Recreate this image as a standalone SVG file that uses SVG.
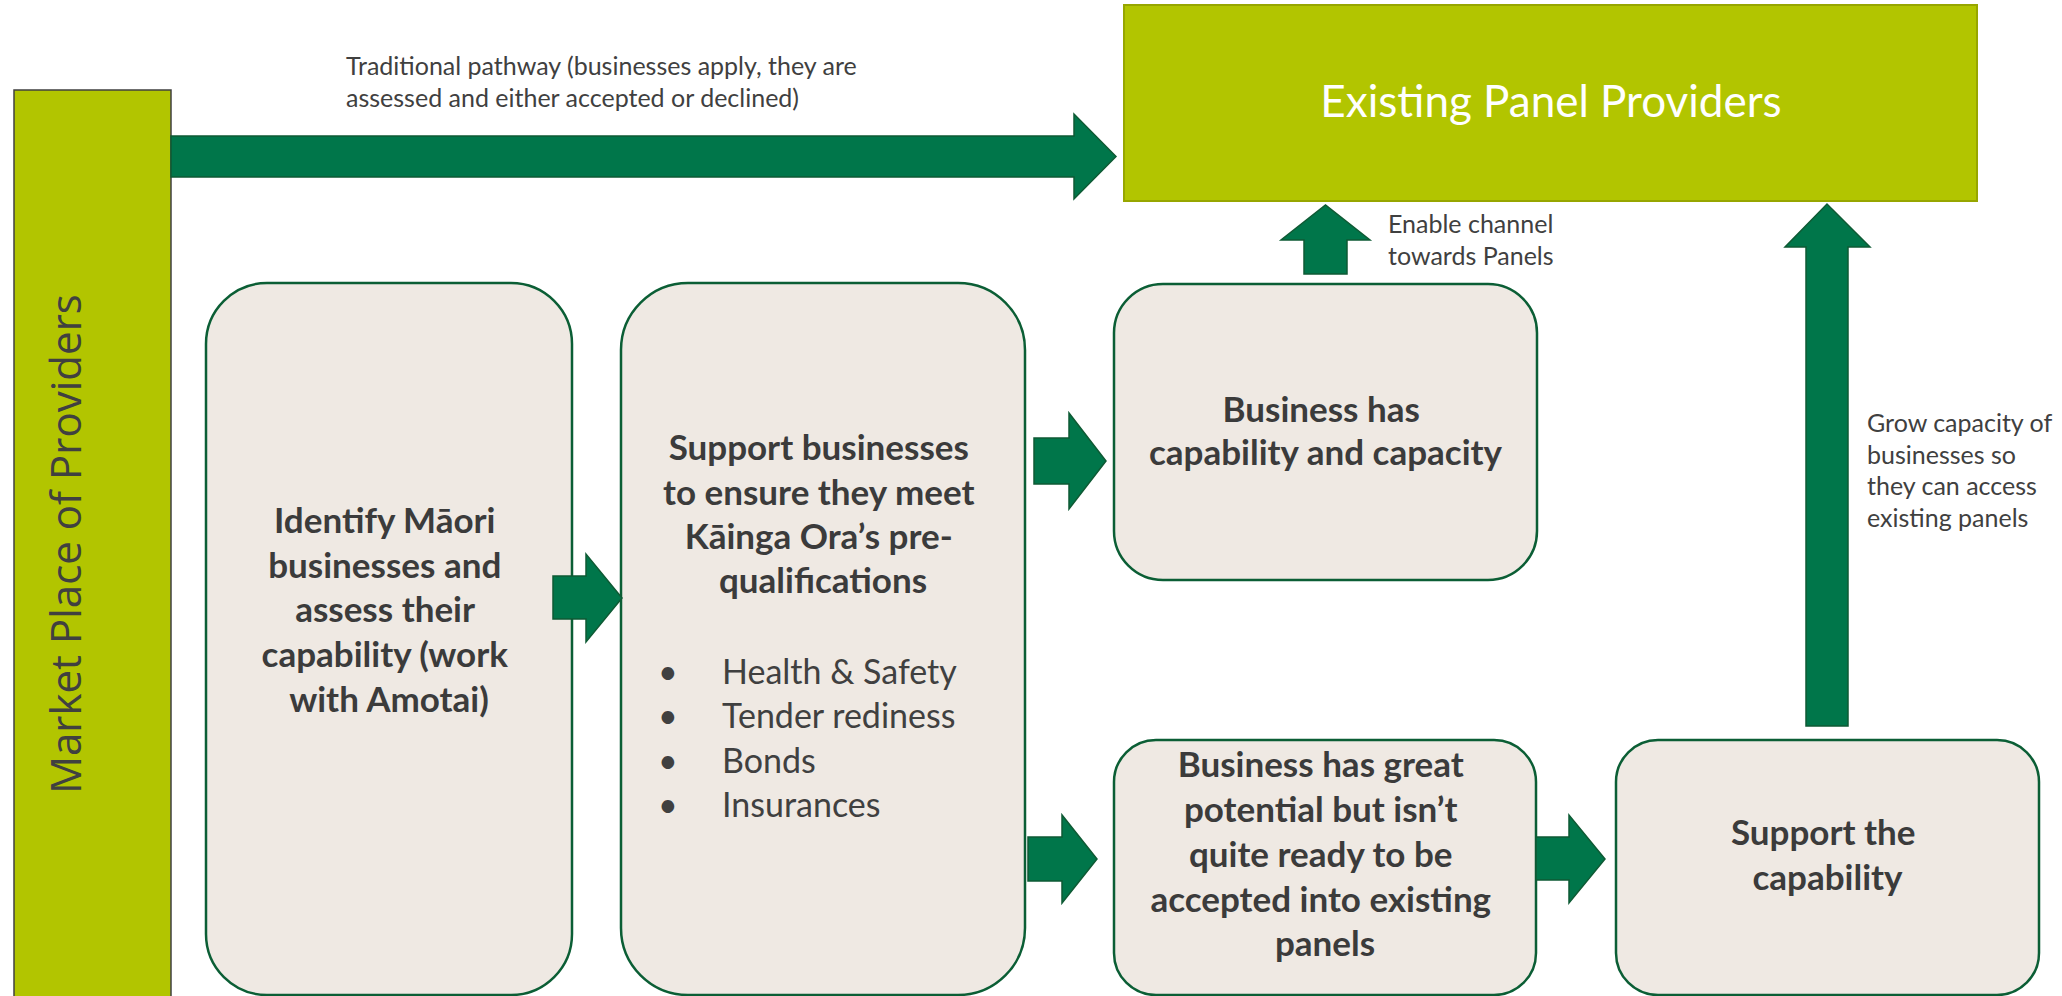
<svg xmlns="http://www.w3.org/2000/svg" width="2062" height="996" viewBox="0 0 2062 996">
  <style>
    .bg { fill: #ffffff; }
    .lime { fill: #B2C500; }
    .bar { stroke: #404040; stroke-width: 1.5; }
    .panel { stroke: #97A600; stroke-width: 2; }
    .step { fill: #EFE9E3; stroke: #0B5E35; stroke-width: 2.5; }
    .arrow { fill: #00764A; stroke: #0E5A34; stroke-width: 1.5; stroke-linejoin: miter; }
    .note { font-family: Lato, "Open Sans", sans-serif; font-size: 25px; fill: #404040; }
    .title { font-family: Lato, "Open Sans", sans-serif; font-size: 44px; fill: #ffffff; text-anchor: middle; }
    .side { font-family: "Open Sans", Lato, sans-serif; font-size: 42px; font-weight: 400; fill: #404040; text-anchor: middle; }
    .label { font-family: Lato, "Open Sans", sans-serif; font-size: 35px; font-weight: bold; fill: #3B3B3B; text-anchor: middle; }
    .item { font-family: Lato, "Open Sans", sans-serif; font-size: 34px; fill: #404040; }
  </style>

  <rect class="bg" x="0" y="0" width="2062" height="996"/>

  <!-- vertical market bar -->
  <g id="market">
    <rect class="lime bar" x="14" y="90" width="157" height="910"/>
    <text class="side" transform="translate(81,544) rotate(-90)" x="0" y="0">Market Place of Providers</text>
  </g>

  <!-- destination -->
  <g id="panel-providers">
    <rect class="lime panel" x="1124" y="5" width="853" height="196"/>
    <text class="title" x="1551" y="117">Existing Panel Providers</text>
  </g>

  <g id="identify">
    <rect class="step" x="206" y="283" width="366" height="712" rx="61" ry="61"/>
    <text class="label">
      <tspan x="389" y="533">Identify Māori</tspan>
      <tspan x="389" y="578">businesses and</tspan>
      <tspan x="389" y="622">assess their</tspan>
      <tspan x="389" y="667">capability (work</tspan>
      <tspan x="389" y="712">with Amotai)</tspan>
    </text>
  </g>

  <g id="support-businesses">
    <rect class="step" x="621" y="283" width="404" height="712" rx="67" ry="67"/>
    <text class="label">
      <tspan x="823" y="460">Support businesses</tspan>
      <tspan x="823" y="505">to ensure they meet</tspan>
      <tspan x="823" y="549">Kāinga Ora’s pre-</tspan>
      <tspan x="823" y="593">qualifications</tspan>
    </text>
    <text class="item">
      <tspan x="658" y="684">•</tspan><tspan x="722" y="684">Health &amp; Safety</tspan>
      <tspan x="658" y="728">•</tspan><tspan x="722" y="728">Tender rediness</tspan>
      <tspan x="658" y="773">•</tspan><tspan x="722" y="773">Bonds</tspan>
      <tspan x="658" y="817">•</tspan><tspan x="722" y="817">Insurances</tspan>
    </text>
  </g>

  <g id="has-capability">
    <rect class="step" x="1114" y="284" width="423" height="296" rx="49" ry="49"/>
    <text class="label">
      <tspan x="1325.5" y="422">Business has</tspan>
      <tspan x="1325.5" y="465">capability and capacity</tspan>
    </text>
  </g>

  <g id="has-potential">
    <rect class="step" x="1114" y="740" width="422" height="255" rx="42" ry="42"/>
    <text class="label">
      <tspan x="1325" y="777">Business has great</tspan>
      <tspan x="1325" y="822">potential but isn’t</tspan>
      <tspan x="1325" y="867">quite ready to be</tspan>
      <tspan x="1325" y="912">accepted into existing</tspan>
      <tspan x="1325" y="956">panels</tspan>
    </text>
  </g>

  <g id="support-capability">
    <rect class="step" x="1616" y="740" width="423" height="255" rx="42" ry="42"/>
    <text class="label">
      <tspan x="1827.5" y="845">Support the</tspan>
      <tspan x="1827.5" y="890">capability</tspan>
    </text>
  </g>

  <!-- block arrows -->
  <g id="connectors">
    <polygon class="arrow" points="171,136 1074,136 1074,114 1116,156.5 1074,199 1074,177 171,177"/>
    <polygon class="arrow" points="553,576 586,576 586,554 622,598 586,642 586,619 553,619"/>
    <polygon class="arrow" points="1034,438 1069,438 1069,413 1106,461 1069,509 1069,484 1034,484"/>
    <polygon class="arrow" points="1028,837 1062,837 1062,815 1097,859 1062,903 1062,881 1028,881"/>
    <polygon class="arrow" points="1536,837 1569,837 1569,815 1605,859 1569,903 1569,880 1536,880"/>
    <polygon class="arrow" points="1304,274 1304,240 1281,240 1325.5,205 1370,240 1347,240 1347,274"/>
    <polygon class="arrow" points="1806,726 1806,247 1785,247 1827,204 1870,247 1848,247 1848,726"/>
  </g>

  <!-- connector notes -->
  <g id="notes">
    <text class="note">
      <tspan x="346" y="75">Traditional pathway (businesses apply, they are</tspan>
      <tspan x="346" y="107">assessed and either accepted or declined)</tspan>
    </text>
    <text class="note">
      <tspan x="1388" y="233">Enable channel</tspan>
      <tspan x="1388" y="265">towards Panels</tspan>
    </text>
    <text class="note">
      <tspan x="1867" y="432">Grow capacity of</tspan>
      <tspan x="1867" y="464">businesses so</tspan>
      <tspan x="1867" y="495">they can access</tspan>
      <tspan x="1867" y="527">existing panels</tspan>
    </text>
  </g>
</svg>
